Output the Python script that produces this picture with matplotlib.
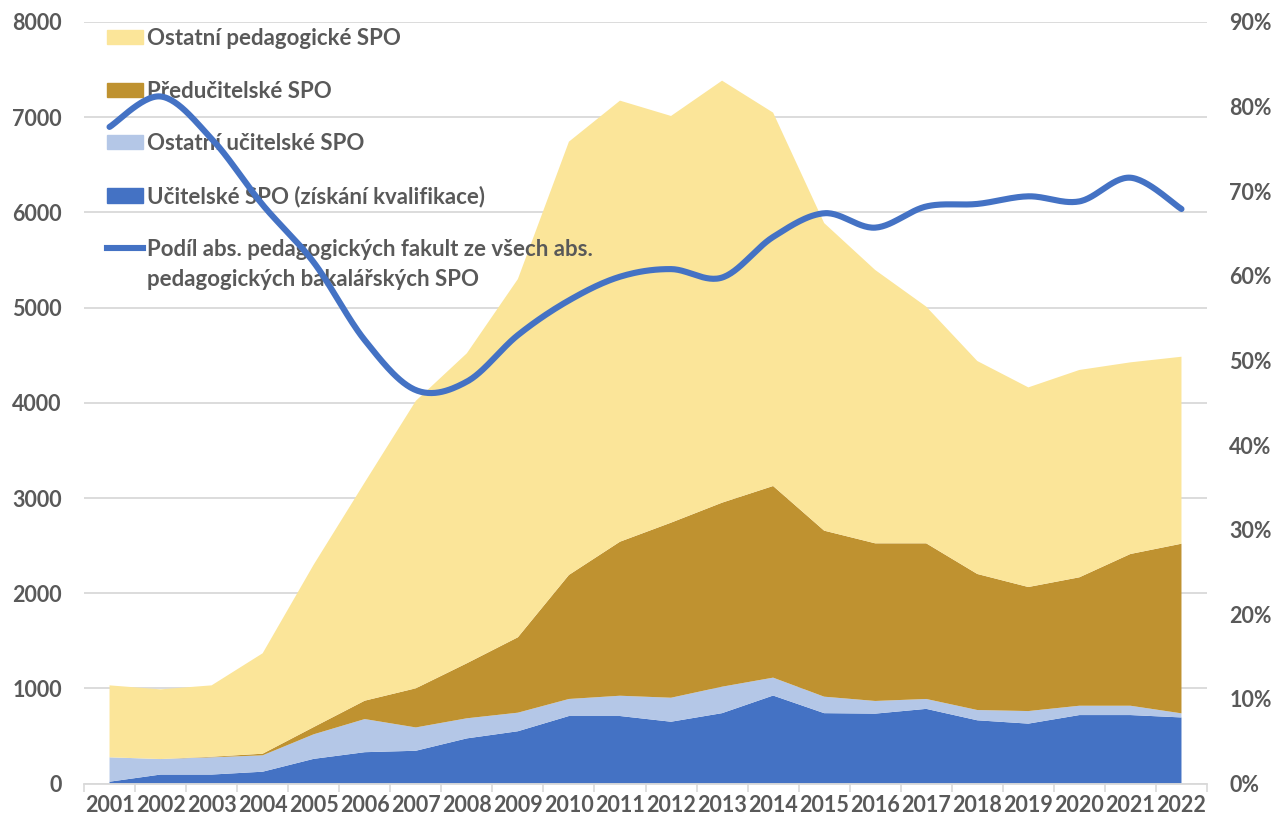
import numpy as np
import matplotlib
matplotlib.use("Agg")
import matplotlib.pyplot as plt
from matplotlib.lines import Line2D
from matplotlib.patches import Patch
from matplotlib.ticker import FixedLocator, PercentFormatter

plt.rcParams['font.family'] = ['Lato', 'DejaVu Sans']
plt.rcParams['font.weight'] = 'bold'

years = list(range(2001, 2023))

# absolventi podle typu SPO (hodnoty nejsou kumulativní)
ucitelske = [20, 95, 95, 125, 260, 330, 345, 475, 550, 710, 710, 650, 740, 925, 740, 735, 785, 665, 630, 720, 720, 695]
ostatni_ucitelske = [256, 163, 181, 172, 258, 348, 245, 211, 195, 179, 213, 252, 278, 188, 173, 133, 104, 108, 132, 98, 98, 43]
preducitelske = [0, 0, 6, 17, 76, 193, 411, 578, 792, 1303, 1618, 1839, 1933, 2013, 1744, 1656, 1635, 1429, 1303, 1349, 1594, 1782]
ostatni_pedagogicke = [756, 732, 750, 1055, 1706, 2293, 3019, 3256, 3763, 4551, 4633, 4272, 4433, 3922, 3231, 2871, 2486, 2237, 2097, 2178, 2013, 1964]

# podíl abs. pedagogických fakult
podil = [0.776, 0.812, 0.762, 0.684, 0.616, 0.524, 0.465, 0.475, 0.530, 0.571, 0.599,
         0.608, 0.598, 0.646, 0.674, 0.657, 0.682, 0.685, 0.694, 0.688, 0.716, 0.679]

labels = ["Učitelské SPO (získání kvalifikace)", "Ostatní učitelské SPO",
          "Předučitelské SPO", "Ostatní pedagogické SPO"]
line_label = ["Podíl abs. pedagogických fakult ze všech abs.",
              "pedagogických bakalářských SPO"]
colors = ["#4472C4", "#B4C7E7", "#BF9230", "#FBE599"]
line_color = "#4472C4"
text_color = "#595959"


def smooth(x, y, n=30):
    # Excel-like smoothed line: cubic Bezier segments with Catmull-Rom control points
    x = np.asarray(x, float)
    y = np.asarray(y, float)
    px = np.concatenate([[x[0]], x, [x[-1]]])
    py = np.concatenate([[y[0]], y, [y[-1]]])
    t = np.linspace(0, 1, n)
    xs, ys = [], []
    for i in range(len(x) - 1):
        p0 = np.array([px[i + 1], py[i + 1]])
        p3 = np.array([px[i + 2], py[i + 2]])
        p1 = p0 + (p3 - np.array([px[i], py[i]])) / 6
        p2 = p3 - (np.array([px[i + 3], py[i + 3]]) - p0) / 6
        b = (((1 - t) ** 3)[:, None] * p0 + (3 * (1 - t) ** 2 * t)[:, None] * p1
             + (3 * (1 - t) * t ** 2)[:, None] * p2 + (t ** 3)[:, None] * p3)
        xs.append(b[:, 0])
        ys.append(b[:, 1])
    return np.concatenate(xs), np.concatenate(ys)


fig = plt.figure(figsize=(12.77, 8.25), dpi=100)
ax = fig.add_axes([84 / 1277, 1 - 783.6 / 825, (1207 - 84) / 1277, (783.6 - 22) / 825])

ax.stackplot(years, ucitelske, ostatni_ucitelske, preducitelske, ostatni_pedagogicke,
             colors=colors, linewidth=0)
ax.set_xlim(2000.5, 2022.5)
ax.set_ylim(0, 8000)
ax.set_yticks(np.arange(0, 8001, 1000))
ax.set_axisbelow(True)
ax.yaxis.grid(True, color="#D9D9D9", linewidth=1.3)

ax.set_xticks(years)
ax.set_xticklabels([str(y) for y in years])
ax.xaxis.set_minor_locator(FixedLocator(np.arange(2000.5, 2023, 1)))
ax.tick_params(axis='x', which='major', length=0, pad=8, labelsize=15.5, labelcolor=text_color)
ax.tick_params(axis='x', which='minor', length=6, width=1.2, color="#D9D9D9")
ax.tick_params(axis='y', length=0, pad=16, labelsize=15.5, labelcolor=text_color)
for s in ['top', 'left', 'right']:
    ax.spines[s].set_visible(False)
ax.spines['bottom'].set_color("#D9D9D9")
ax.spines['bottom'].set_linewidth(1.3)

ax2 = ax.twinx()
sx, sy = smooth(years, podil)
ax2.plot(sx, sy, color=line_color, linewidth=4.4, solid_capstyle='round')
ax2.set_ylim(0, 0.9)
ax2.set_yticks(np.arange(0, 0.91, 0.1))
ax2.yaxis.set_major_formatter(PercentFormatter(1.0, decimals=0))
ax2.tick_params(axis='y', length=0, pad=16, labelsize=15.5, labelcolor=text_color)
for s in ax2.spines.values():
    s.set_visible(False)

handles = [Patch(color=colors[3]), Patch(color=colors[2]), Patch(color=colors[1]),
           Patch(color=colors[0]), Line2D([], [], color=line_color, linewidth=4.4)]
leg_labels = [labels[3], labels[2], labels[1], labels[0], line_label[0]]
leg = ax.legend(handles, leg_labels, loc='upper left', bbox_to_anchor=(107 / 1277, 1 - 28 / 825),
                bbox_transform=fig.transFigure, frameon=False, fontsize=16,
                handlelength=1.6, handleheight=0.6, handletextpad=0.2,
                labelspacing=1.42, borderpad=0, borderaxespad=0)
for t in leg.get_texts():
    t.set_color(text_color)

# druhý řádek popisku čáry (handle zůstává u prvního řádku jako v Excelu)
fig.canvas.draw()
ax.annotate(line_label[1], xy=(0, 0), xycoords=leg.get_texts()[-1],
            xytext=(0, -21.6), textcoords='offset points', ha='left', va='bottom',
            fontsize=16, color=text_color, zorder=6)

fig.savefig("out.png", dpi=100)
